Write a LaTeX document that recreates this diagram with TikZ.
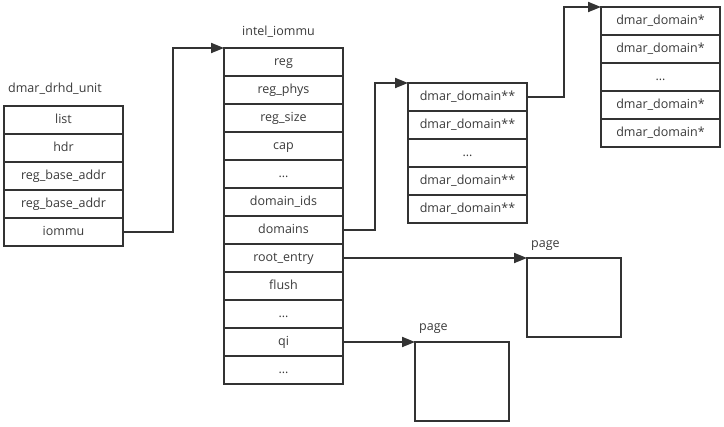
\documentclass[tikz,border=0pt]{standalone}
\usepackage{fontspec}
\setmainfont{Open Sans}
\usetikzlibrary{arrows.meta,positioning}
\definecolor{linegray}{HTML}{333333}
\definecolor{textgray}{HTML}{3A3A3A}
\tikzset{
  field/.style={draw=linegray,line width=1.9pt,minimum width=119pt,minimum height=28pt,
    inner sep=0pt,outer sep=0pt,text height=7pt,text depth=0.5pt,
    text=textgray,font=\fontsize{12.5}{15}\selectfont},
  pagebox/.style={draw=linegray,line width=1.9pt,minimum width=94pt,minimum height=79pt,
    inner sep=0pt,outer sep=0pt},
  title/.style={text=textgray,inner sep=1pt,font=\fontsize{12.5}{15}\selectfont},
  ptr/.style={draw=linegray,line width=1.9pt,-{Triangle[length=13pt,width=10pt]}}
}
\begin{document}
\begin{tikzpicture}[x=1pt,y=-1pt]
  \useasboundingbox (0,0) rectangle (724,427);
  % dmar_drhd_unit
  \foreach \t [count=\i] in {list,hdr,reg\_base\_addr,reg\_base\_addr,iommu}
    \node[field] (drhd-\i) at (63.5,{120+28*(\i-1)}) {\t};
  \node[title,above right=10pt and 3pt of drhd-1.north west] (drhdname) {dmar\_drhd\_unit};
  % intel_iommu
  \foreach \t [count=\i] in {reg,reg\_phys,reg\_size,cap,\dots,domain\_ids,domains,root\_entry,flush,\dots,qi,\dots}
    \node[field] (iommu-\i) at (283.5,{62+28*(\i-1)}) {\t};
  \node[title,above=9pt of iommu-1,xshift=-5pt] (iommuname) {intel\_iommu};
  % domains arrays
  \foreach \t [count=\i] in {dmar\_domain**,dmar\_domain**,\dots,dmar\_domain**,dmar\_domain**}
    \node[field] (dtab-\i) at (467.5,{97+28*(\i-1)}) {\t};
  \foreach \t [count=\i] in {dmar\_domain*,dmar\_domain*,\dots,dmar\_domain*,dmar\_domain*}
    \node[field] (dom-\i) at (660.5,{21+28*(\i-1)}) {\t};
  % pages
  \node[pagebox] (rootpage) at (574,297.5) {};
  \node[title,above right=6pt and 3pt of rootpage.north west] (rootname) {page};
  \node[pagebox] (qipage) at (462,381.5) {};
  \node[title,above right=7pt and 3pt of qipage.north west] (qiname) {page};
  % pointers
  \draw[ptr] (drhd-5.east) -- ++(50,0) |- (iommu-1.north west);
  \draw[ptr] (iommu-7.east) -- ++(32,0) |- (dtab-1.north west);
  \draw[ptr] (dtab-1.east) -- ++(37,0) |- (dom-1.north west);
  \draw[ptr] (iommu-8.east) -- (rootpage.north west);
  \draw[ptr] (iommu-11.east) -- (qipage.north west);
\end{tikzpicture}
\end{document}
